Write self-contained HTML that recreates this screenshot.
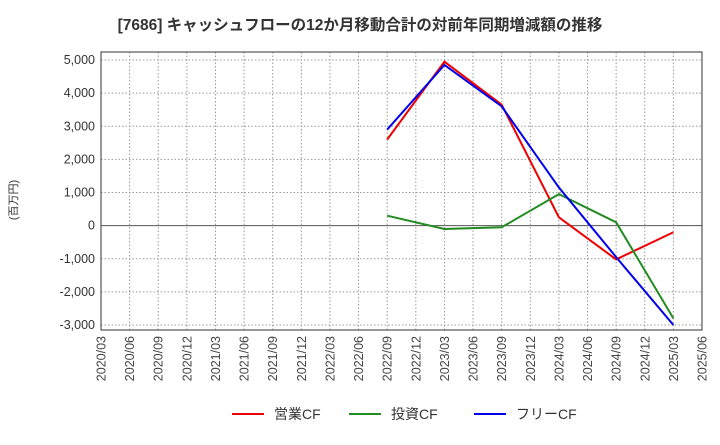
<!DOCTYPE html>
<html><head><meta charset="utf-8"><style>
body{margin:0;background:#fff;font-family:"Liberation Sans","Noto Sans CJK JP",sans-serif}
</style></head><body>
<svg id="c" width="720" height="440" xmlns="http://www.w3.org/2000/svg">
<text x="360" y="30" text-anchor="middle" font-size="15.5" font-weight="bold" fill="#333" font-family="Liberation Sans,Noto Sans CJK JP,sans-serif">[7686]  キャッシュフローの12か月移動合計の対前年同期増減額の推移</text>
<text transform="translate(17,200) rotate(-90)" text-anchor="middle" font-size="11" fill="#333" font-family="Liberation Sans,Noto Sans CJK JP,sans-serif">(百万円)</text>
<g id="grid"></g><g id="series"></g><g id="legend"></g>
</svg>
<script>
const xLabels=["2020/03","2020/06","2020/09","2020/12","2021/03","2021/06","2021/09","2021/12","2022/03","2022/06","2022/09","2022/12","2023/03","2023/06","2023/09","2023/12","2024/03","2024/06","2024/09","2024/12","2025/03","2025/06"];
const yTicks=[5000,4000,3000,2000,1000,0,-1000,-2000,-3000];
const pointIdx=[10,12,14,16,18,20];
const opCF=[2600,4950,3650,250,-1020,-200];
const invCF=[300,-100,-50,950,100,-2800];
const freeCF=[2900,4850,3600,1150,-950,-3000];
const seriesNames=["営業CF","投資CF","フリーCF"];
const NS="http://www.w3.org/2000/svg";
const L=101,R=702,T=52,B=330;
const xs=i=>L+i*(R-L)/(xLabels.length-1);
const ys=v=>60+(5000-v)*(325-60)/8000;
function mk(t,a,p){const e=document.createElementNS(NS,t);for(const k in a)e.setAttribute(k,a[k]);p.appendChild(e);return e;}
const g=document.getElementById('grid');
xLabels.forEach((lb,i)=>{const x=xs(i);
 const ln=mk('line',{x1:x,x2:x,y1:T,y2:B,stroke:'#999','stroke-dasharray':'1.5,2','stroke-width':1},g);
 
 const t=mk('text',{transform:`translate(${x+4.5},${B+6}) rotate(-90)`,'text-anchor':'end','font-size':12.5,fill:'#444'},g);
 t.textContent=lb;});
yTicks.forEach(v=>{const y=ys(v);
 const ln=mk('line',{x1:L,x2:R,y1:y,y2:y,stroke:v===0?'#555':'#999','stroke-dasharray':v===0?'':'1.5,2','stroke-width':1},g);
 
 const t=mk('text',{x:L-6,y:y+4,'text-anchor':'end','font-size':12.5,fill:'#333'},g);
 t.textContent=v.toLocaleString('en-US');});
const fr=mk('rect',{x:L,y:T,width:R-L,height:B-T,fill:'none',stroke:'#333','stroke-width':1},g);

const sg=document.getElementById('series');
const cols=['#e00','#228B22','#00e'];
[opCF,invCF,freeCF].forEach((d,k)=>{
 const pl=mk('polyline',{points:d.map((v,i)=>xs(pointIdx[i])+','+ys(v)).join(' '),fill:'none',stroke:cols[k],'stroke-width':2},sg);
 });
const lg=document.getElementById('legend');
const lx=[232,349,474];
seriesNames.forEach((n,k)=>{
 const ln=mk('line',{x1:lx[k],x2:lx[k]+32,y1:414,y2:414,stroke:cols[k],'stroke-width':2},lg);
 
 const t=mk('text',{x:lx[k]+42,y:419,'font-size':14,fill:'#333'},lg);
 t.textContent=n;});
</script>
</body></html>
